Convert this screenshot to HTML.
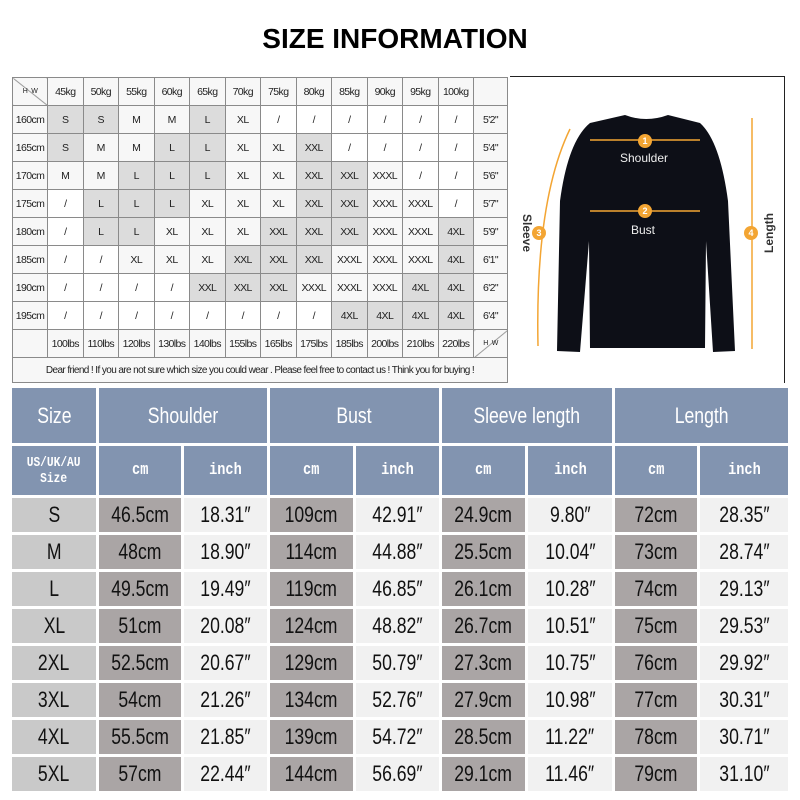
<!DOCTYPE html>
<html><head><meta charset="utf-8"><style>
body{margin:0;width:800px;height:800px;background:#fff;position:relative;overflow:hidden;font-family:"Liberation Sans",sans-serif}
.title{position:absolute;left:0;width:790px;top:23px;text-align:center;font:bold 28px "Liberation Sans",sans-serif}
table.t{position:absolute;left:12px;top:77px;border-collapse:collapse;width:495px;table-layout:fixed;font-size:10.5px;color:#222}
table.t td{border:1px solid #8a8a8a;height:27px;text-align:center;padding:0;background:#f7f7f7;letter-spacing:-0.6px;white-space:nowrap}
table.t td.g{background:#dcdcdc}
table.t td.w{background:#fff}
table.t td.note{height:24px;font-size:10px}
.img{position:absolute;left:510px;top:76px;width:274px;height:306px;border-top:1px solid #222;border-right:1px solid #222;background:#fff}
.bt{position:absolute;left:12px;top:388px;display:grid;grid-template-columns:84px 82px 83px 83px 83px 83px 84px 82px 88px;grid-template-rows:55px 49px repeat(8,34px);gap:3px;}
.bt div{display:flex;align-items:center;justify-content:center;font-size:22px;color:#111}
.bt div span{display:inline-block;transform:scaleX(.8);white-space:nowrap}
.h{background:#8294b0;color:#fff!important;font-size:22px}
.h2{background:#8294b0;color:#fff!important;font:bold 17px "Liberation Mono",monospace!important}
.s{background:#c9c9c9}.c{background:#aaa5a5}.i{background:#f1f1f1}
</style></head><body>
<div class="title">SIZE INFORMATION</div>
<table class="t">
<colgroup><col style="width:35px"><col span="12" style="width:35.5px"><col style="width:34px"></colgroup>
<tr><td style="font-size:7px;background:linear-gradient(to top right,#f7f7f7 48%,#888 50%,#f7f7f7 52%)">H&nbsp;&nbsp;&nbsp;W</td><td>45kg</td><td>50kg</td><td>55kg</td><td>60kg</td><td>65kg</td><td>70kg</td><td>75kg</td><td>80kg</td><td>85kg</td><td>90kg</td><td>95kg</td><td>100kg</td><td></td></tr>
<tr><td>160cm</td><td class="g">S</td><td class="g">S</td><td>M</td><td>M</td><td class="g">L</td><td>XL</td><td class="w">/</td><td class="w">/</td><td class="w">/</td><td class="w">/</td><td class="w">/</td><td class="w">/</td><td>5'2"</td></tr>
<tr><td>165cm</td><td class="g">S</td><td>M</td><td>M</td><td class="g">L</td><td class="g">L</td><td>XL</td><td>XL</td><td class="g">XXL</td><td class="w">/</td><td class="w">/</td><td class="w">/</td><td class="w">/</td><td>5'4"</td></tr>
<tr><td>170cm</td><td>M</td><td>M</td><td class="g">L</td><td class="g">L</td><td class="g">L</td><td>XL</td><td>XL</td><td class="g">XXL</td><td class="g">XXL</td><td>XXXL</td><td class="w">/</td><td class="w">/</td><td>5'6"</td></tr>
<tr><td>175cm</td><td class="w">/</td><td class="g">L</td><td class="g">L</td><td class="g">L</td><td>XL</td><td>XL</td><td>XL</td><td class="g">XXL</td><td class="g">XXL</td><td>XXXL</td><td>XXXL</td><td class="w">/</td><td>5'7"</td></tr>
<tr><td>180cm</td><td class="w">/</td><td class="g">L</td><td class="g">L</td><td>XL</td><td>XL</td><td>XL</td><td class="g">XXL</td><td class="g">XXL</td><td class="g">XXL</td><td>XXXL</td><td>XXXL</td><td class="g">4XL</td><td>5'9"</td></tr>
<tr><td>185cm</td><td class="w">/</td><td class="w">/</td><td>XL</td><td>XL</td><td>XL</td><td class="g">XXL</td><td class="g">XXL</td><td class="g">XXL</td><td>XXXL</td><td>XXXL</td><td>XXXL</td><td class="g">4XL</td><td>6'1"</td></tr>
<tr><td>190cm</td><td class="w">/</td><td class="w">/</td><td class="w">/</td><td class="w">/</td><td class="g">XXL</td><td class="g">XXL</td><td class="g">XXL</td><td>XXXL</td><td>XXXL</td><td>XXXL</td><td class="g">4XL</td><td class="g">4XL</td><td>6'2"</td></tr>
<tr><td>195cm</td><td class="w">/</td><td class="w">/</td><td class="w">/</td><td class="w">/</td><td class="w">/</td><td class="w">/</td><td class="w">/</td><td class="w">/</td><td class="g">4XL</td><td class="g">4XL</td><td class="g">4XL</td><td class="g">4XL</td><td>6'4"</td></tr>
<tr><td></td><td>100lbs</td><td>110lbs</td><td>120lbs</td><td>130lbs</td><td>140lbs</td><td>155lbs</td><td>165lbs</td><td>175lbs</td><td>185lbs</td><td>200lbs</td><td>210lbs</td><td>220lbs</td><td style="font-size:7px;background:linear-gradient(to bottom right,#f7f7f7 48%,#888 50%,#f7f7f7 52%)">H&nbsp;&nbsp;&nbsp;W</td></tr>
<tr><td colspan="14" class="note">Dear friend ! If you are not sure which size you could wear . Please feel free to contact us ! Think you for buying !</td></tr>
</table>
<div class="img">
<svg width="274" height="306" viewBox="510 76 274 306" xmlns="http://www.w3.org/2000/svg">
<path d="M625 114 Q646 122 668 114 L700 122 Q720 140 728 200 L735 350 L713 351 L706 240 L705 347 L590 347 L589 240 L580 351 L557 350 L560 200 Q568 140 590 122 Z" fill="#0d0f17"/>
<g stroke="#f3a533" stroke-width="1.5" fill="#f3a533">
<line x1="590" y1="139" x2="700" y2="139"/><line x1="590" y1="210" x2="700" y2="210"/>
<path d="M538 345 Q535 200 570 128" fill="none"/>
<line x1="752" y1="117" x2="752" y2="348"/>
</g>
<g fill="#f3a533"><circle cx="645" cy="140" r="7"/><circle cx="645" cy="210" r="7"/><circle cx="539" cy="232" r="7"/><circle cx="751" cy="232" r="7"/></g>
<g font-family="Liberation Sans" font-weight="bold" font-size="9" fill="#fff" text-anchor="middle"><text x="645" y="143">1</text><text x="645" y="213">2</text><text x="539" y="235">3</text><text x="751" y="235">4</text></g>
<g font-family="Liberation Sans" font-size="12" fill="#eee" text-anchor="middle"><text x="644" y="161">Shoulder</text><text x="643" y="233">Bust</text></g>
<text x="0" y="0" font-family="Liberation Sans" font-weight="bold" font-size="12" fill="#333" text-anchor="middle" transform="translate(523 232) rotate(90)">Sleeve</text>
<text x="0" y="0" font-family="Liberation Sans" font-weight="bold" font-size="12" fill="#333" text-anchor="middle" transform="translate(773 232) rotate(-90)">Length</text>
</svg>
</div>
<div class="bt">
<div class="h"><span>Size</span></div><div class="h" style="grid-column:span 2"><span>Shoulder</span></div><div class="h" style="grid-column:span 2"><span>Bust</span></div><div class="h" style="grid-column:span 2"><span>Sleeve length</span></div><div class="h" style="grid-column:span 2"><span>Length</span></div>
<div class="h2" style="font-size:14px!important;text-align:center;line-height:20px"><span>US/UK/AU<br>Size</span></div><div class="h2"><span>cm</span></div><div class="h2"><span>inch</span></div><div class="h2"><span>cm</span></div><div class="h2"><span>inch</span></div><div class="h2"><span>cm</span></div><div class="h2"><span>inch</span></div><div class="h2"><span>cm</span></div><div class="h2"><span>inch</span></div>
<div class="s"><span>S</span></div><div class="c"><span>46.5cm</span></div><div class="i"><span>18.31″</span></div><div class="c"><span>109cm</span></div><div class="i"><span>42.91″</span></div><div class="c"><span>24.9cm</span></div><div class="i"><span>9.80″</span></div><div class="c"><span>72cm</span></div><div class="i"><span>28.35″</span></div>
<div class="s"><span>M</span></div><div class="c"><span>48cm</span></div><div class="i"><span>18.90″</span></div><div class="c"><span>114cm</span></div><div class="i"><span>44.88″</span></div><div class="c"><span>25.5cm</span></div><div class="i"><span>10.04″</span></div><div class="c"><span>73cm</span></div><div class="i"><span>28.74″</span></div>
<div class="s"><span>L</span></div><div class="c"><span>49.5cm</span></div><div class="i"><span>19.49″</span></div><div class="c"><span>119cm</span></div><div class="i"><span>46.85″</span></div><div class="c"><span>26.1cm</span></div><div class="i"><span>10.28″</span></div><div class="c"><span>74cm</span></div><div class="i"><span>29.13″</span></div>
<div class="s"><span>XL</span></div><div class="c"><span>51cm</span></div><div class="i"><span>20.08″</span></div><div class="c"><span>124cm</span></div><div class="i"><span>48.82″</span></div><div class="c"><span>26.7cm</span></div><div class="i"><span>10.51″</span></div><div class="c"><span>75cm</span></div><div class="i"><span>29.53″</span></div>
<div class="s"><span>2XL</span></div><div class="c"><span>52.5cm</span></div><div class="i"><span>20.67″</span></div><div class="c"><span>129cm</span></div><div class="i"><span>50.79″</span></div><div class="c"><span>27.3cm</span></div><div class="i"><span>10.75″</span></div><div class="c"><span>76cm</span></div><div class="i"><span>29.92″</span></div>
<div class="s"><span>3XL</span></div><div class="c"><span>54cm</span></div><div class="i"><span>21.26″</span></div><div class="c"><span>134cm</span></div><div class="i"><span>52.76″</span></div><div class="c"><span>27.9cm</span></div><div class="i"><span>10.98″</span></div><div class="c"><span>77cm</span></div><div class="i"><span>30.31″</span></div>
<div class="s"><span>4XL</span></div><div class="c"><span>55.5cm</span></div><div class="i"><span>21.85″</span></div><div class="c"><span>139cm</span></div><div class="i"><span>54.72″</span></div><div class="c"><span>28.5cm</span></div><div class="i"><span>11.22″</span></div><div class="c"><span>78cm</span></div><div class="i"><span>30.71″</span></div>
<div class="s"><span>5XL</span></div><div class="c"><span>57cm</span></div><div class="i"><span>22.44″</span></div><div class="c"><span>144cm</span></div><div class="i"><span>56.69″</span></div><div class="c"><span>29.1cm</span></div><div class="i"><span>11.46″</span></div><div class="c"><span>79cm</span></div><div class="i"><span>31.10″</span></div>
</div>
</body></html>
